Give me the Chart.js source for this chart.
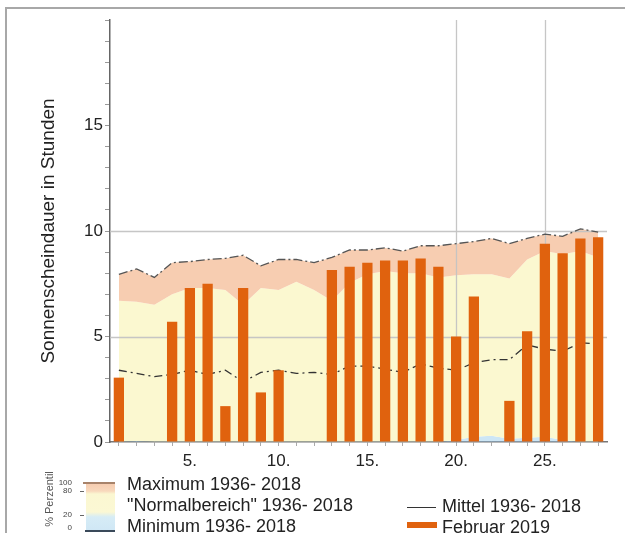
<!DOCTYPE html>
<html><head><meta charset="utf-8">
<script src="https://cdn.jsdelivr.net/npm/chart.js@4/dist/chart.umd.min.js"></script>
<style>
html,body{margin:0;padding:0;background:#fff;width:625px;height:533px;overflow:hidden;}
#frame{position:absolute;left:5px;top:7px;width:1200px;height:1200px;border-left:2px solid #a8a8a8;border-top:2px solid #a8a8a8;}
#wrap{position:absolute;left:0;top:0;width:625px;height:533px;}
.lg{position:absolute;font-family:"Liberation Sans",Arial,sans-serif;font-size:18px;line-height:18px;color:#222;white-space:nowrap;}
.sm{position:absolute;font-family:"Liberation Sans",Arial,sans-serif;font-size:8px;line-height:8px;color:#444;text-align:right;width:20px;}
.ln{position:absolute;}
</style></head>
<body>
<div id="frame"></div>
<div id="wrap"><canvas id="c" width="625" height="533"></canvas></div>

<div class="lg" style="left:49px;top:499px;font-size:11px;line-height:11px;color:#555;transform:translate(-50%,-50%) rotate(-90deg);">% Perzentil</div>
<div class="sm" style="left:52px;top:479px;">100</div>
<div class="sm" style="left:52px;top:487px;">80</div>
<div class="sm" style="left:52px;top:511px;">20</div>
<div class="sm" style="left:52px;top:524px;">0</div>
<div class="ln" style="left:86px;top:484px;width:29px;height:47px;background:linear-gradient(to bottom,#f6cdb1 0px,#f8d8bc 7px,#fbf7d2 10px,#fbf8d4 28px,#d6ecf6 33px,#cfe7f5 47px);"></div>
<div class="ln" style="left:83px;top:482px;width:32px;height:2px;background:#a8836a;"></div>
<div class="ln" style="left:80px;top:491px;width:4px;height:1px;background:#666;"></div>
<div class="ln" style="left:80px;top:515px;width:4px;height:1px;background:#666;"></div>
<div class="ln" style="left:85px;top:530px;width:30px;height:1.5px;background:#3a4a5a;"></div>
<div class="lg" style="left:127px;top:475px;">Maximum 1936- 2018</div>
<div class="lg" style="left:127px;top:496px;">"Normalbereich" 1936- 2018</div>
<div class="lg" style="left:127px;top:517px;">Minimum 1936- 2018</div>
<div class="ln" style="left:407px;top:507px;width:29px;height:1.3px;background:#333;"></div>
<div class="lg" style="left:442px;top:497px;">Mittel 1936- 2018</div>
<div class="ln" style="left:407px;top:522px;width:30px;height:6px;background:#e0620e;"></div>
<div class="lg" style="left:442px;top:518px;">Februar 2019</div>

<script>
const days = [1,2,3,4,5,6,7,8,9,10,11,12,13,14,15,16,17,18,19,20,21,22,23,24,25,26,27,28];
const xTickDays = [5,10,15,20,25];
const yTickLabels = [0,5,10,15];
const gridY = [5,10];
const gridX = [20,25];

const februar2019 = [3.05,0,0,5.7,7.3,7.5,1.7,7.3,2.35,3.4,0,0,8.15,8.3,8.5,8.6,8.6,8.7,8.3,5.0,6.9,0,1.95,5.25,9.4,8.95,9.65,9.7];
const mittel = [3.4,3.25,3.1,3.2,3.4,3.2,3.4,2.85,3.3,3.4,3.25,3.3,3.2,3.6,3.6,3.45,3.3,3.7,3.5,3.4,3.75,3.9,3.9,4.6,4.4,4.3,4.7,4.65];
const maximum = [7.95,8.2,7.8,8.5,8.55,8.65,8.7,8.85,8.35,8.65,8.65,8.5,8.75,9.1,9.1,9.2,9.05,9.3,9.3,9.4,9.5,9.65,9.4,9.65,9.85,9.75,10.1,9.95];
const perz80 = [6.7,6.65,6.5,7.0,7.3,7.3,7.2,6.5,7.3,7.2,7.6,7.2,6.7,7.55,7.95,8.1,8.0,8.0,7.8,7.9,7.95,7.95,7.75,8.65,9.05,8.9,9.05,8.75];
const perz20 = [0,0.05,0,0,0,0,0,0,0,0,0,0,0,0,0,0,0,0,0,0.1,0.25,0.3,0.15,0.2,0.25,0.1,0,0];
const minimum = [0,0,0,0,0,0,0,0,0,0,0,0,0,0,0,0,0,0,0,0,0,0,0,0,0,0,0,0];

const FONT = '"Liberation Sans", Arial, sans-serif';
const NONE = 'rgba(0,0,0,0)';

const gridPlugin = {
  id: 'customGrid',
  beforeDatasetDraw(chart, args) {
    if (args.index !== 3) return;
    const {ctx, chartArea: a, scales: {x, y}} = chart;
    ctx.save();
    ctx.strokeStyle = 'rgba(195,195,195,0.95)';
    ctx.lineWidth = 1.3;
    gridY.forEach(v => {
      const py = Math.round(y.getPixelForValue(v)) + 0.5;
      ctx.beginPath(); ctx.moveTo(a.left, py); ctx.lineTo(a.right, py); ctx.stroke();
    });
    gridX.forEach(d => {
      const px = Math.round(x.getPixelForValue(days.indexOf(d))) + 0.5;
      ctx.beginPath(); ctx.moveTo(px, a.top); ctx.lineTo(px, a.bottom); ctx.stroke();
    });
    ctx.restore();
  }
};

new Chart(document.getElementById('c'), {
  data: {
    labels: days.map(String),
    datasets: [
      {type:'bar', label:'Februar 2019', data:februar2019, backgroundColor:'#e0620e',
       barPercentage:0.58, categoryPercentage:1, order:1},
      {type:'line', label:'Mittel 1936- 2018', data:mittel, borderColor:'#333', borderWidth:1.3,
       borderDash:[8,4,2,4], pointRadius:0, fill:false, tension:0, order:2},
      {type:'line', label:'Maximum 1936- 2018', data:maximum, borderColor:'#555', borderWidth:1.3,
       borderDash:[9,3,2,3], pointRadius:0, fill:false, tension:0, order:3},
      {type:'line', label:'Minimum 1936- 2018', data:minimum, borderColor:'#3a4a5a', borderWidth:1,
       pointRadius:0, fill:false, order:4},
      {type:'line', label:'p20', data:perz20, borderColor:NONE, borderWidth:0, pointRadius:0,
       fill:3, backgroundColor:'#cde6f5', order:7},
      {type:'line', label:'p80', data:perz80, borderColor:NONE, borderWidth:0, pointRadius:0,
       fill:4, backgroundColor:'#fbf8d0', order:6},
      {type:'line', label:'maxArea', data:maximum, borderColor:NONE, borderWidth:0, pointRadius:0,
       fill:5, backgroundColor:'#f7cdb1', order:5}
    ]
  },
  options: {
    responsive:false, animation:false, devicePixelRatio:1,
    layout:{padding:{top:20, right:18, left:0, bottom:0}},
    plugins:{legend:{display:false}, tooltip:{enabled:false}},
    scales:{
      x:{
        type:'category', offset:true,
        grid:{display:true, drawOnChartArea:false, drawTicks:true, tickLength:4, color:'#aaa', offset:false},
        border:{color:'#777', width:1.5},
        ticks:{autoSkip:false, maxRotation:0, padding:5, color:'#222', font:{family:FONT, size:17},
          callback:(v,i)=> xTickDays.includes(days[i]) ? days[i] + '.' : ''},
        afterFit:s=>{ s.height = 91; }
      },
      y:{
        min:0, max:20,
        grid:{display:true, drawOnChartArea:false, drawTicks:true, tickLength:5, color:'#999'},
        border:{color:'#666', width:1.5},
        ticks:{stepSize:1, autoSkip:false, padding:2, color:'#222', font:{family:FONT, size:17},
          callback:v=> yTickLabels.includes(v) ? String(v) : ''},
        title:{display:true, text:'Sonnenscheindauer in Stunden', color:'#222',
          font:{family:FONT, size:19}, padding:{top:37, bottom:0}},
        afterFit:s=>{ s.width = 110; }
      }
    }
  },
  plugins:[gridPlugin]
});
</script>
</body></html>
